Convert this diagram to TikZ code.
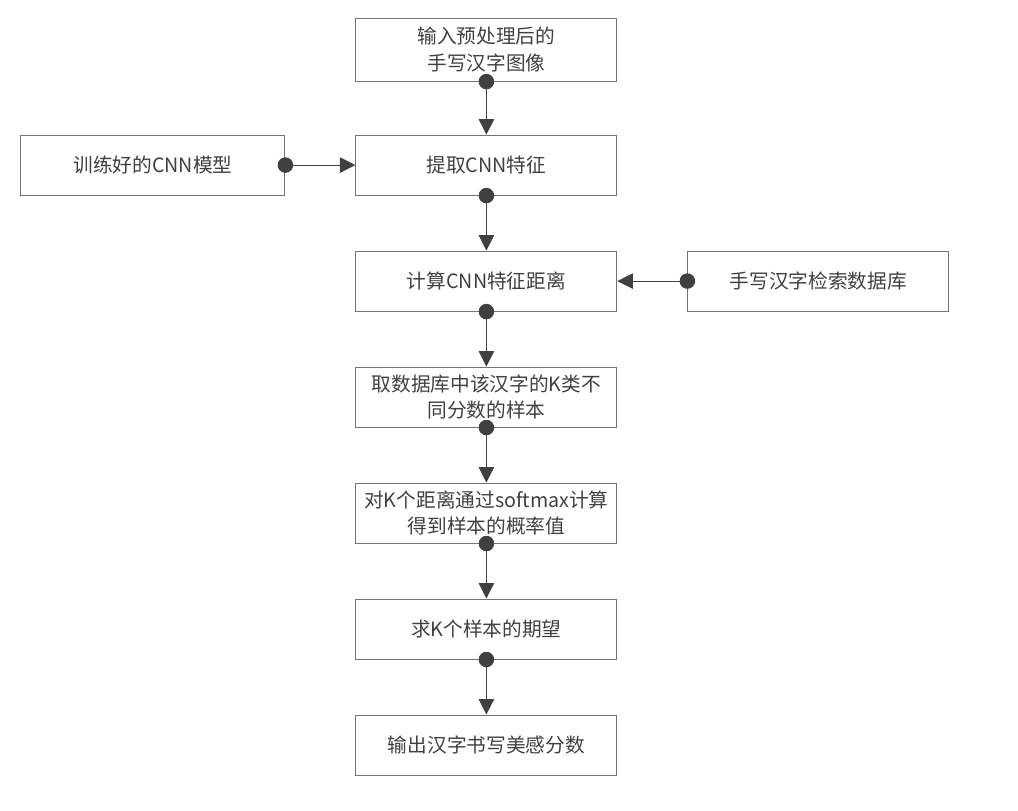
\documentclass[tikz,border=0pt]{standalone}
\usepackage{fontspec}
\setmainfont{Noto Sans CJK SC}
\usetikzlibrary{positioning,arrows.meta}

\begin{document}
\begin{tikzpicture}[node distance=1.375cm and 1.75cm,
   every node/.style={font=\fontsize{14}{19}\selectfont, text=black!75},
   box/.style={draw=black!55, line width=0.7pt, minimum width=6.525cm,
     minimum height=1.5cm, align=center, inner sep=2pt},
   link/.style={draw=black!75, line width=0.6pt, shorten <=-5.5pt,
     {Circle[length=11pt]}-{Triangle[length=11pt,width=11pt]}}]
  \useasboundingbox (0,0) rectangle (25.45,-20.25);
  \node[box, minimum height=1.575cm] (input) at (12.16,-1.24) {输入预处理后的\\手写汉字图像};
  \node[box] (feat) [below=1.325cm of input] {提取CNN特征};
  \node[box, minimum width=6.6cm] (model) [left=of feat] {训练好的CNN模型};
  \node[box] (dist) [below=of feat] {计算CNN特征距离};
  \node[box] (db) [right=of dist] {手写汉字检索数据库};
  \node[box] (sample) [below=of dist] {取数据库中该汉字的K类不\\同分数的样本};
  \node[box] (prob) [below=of sample] {对K个距离通过softmax计算\\得到样本的概率值};
  \node[box] (expect) [below=of prob] {求K个样本的期望};
  \node[box] (score) [below=of expect] {输出汉字书写美感分数};
  \draw[link] (input) -- (feat);
  \draw[link] (model) -- (feat);
  \draw[link] (feat) -- (dist);
  \draw[link] (db) -- (dist);
  \draw[link] (dist) -- (sample);
  \draw[link] (sample) -- (prob);
  \draw[link] (prob) -- (expect);
  \draw[link] (expect) -- (score);
\end{tikzpicture}
\end{document}
